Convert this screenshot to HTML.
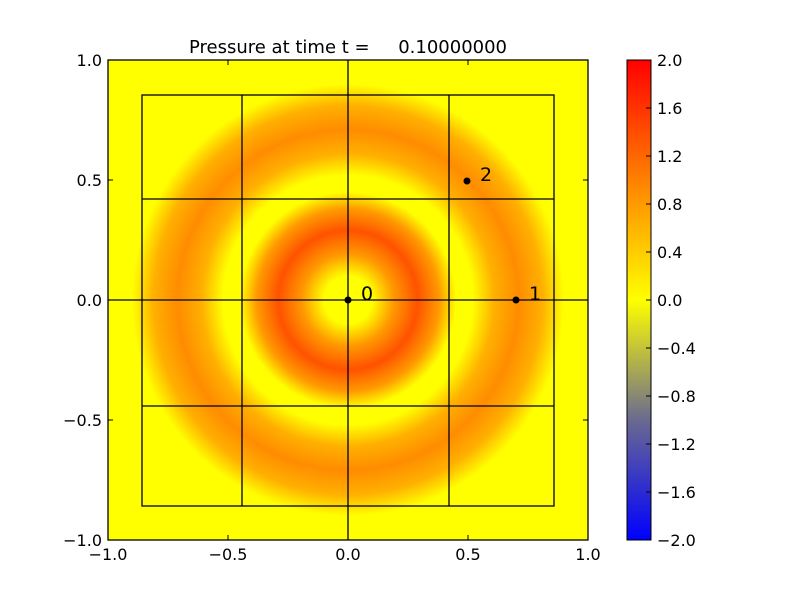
<!DOCTYPE html>
<html><head><meta charset="utf-8"><style>body{margin:0;background:#fff}svg{display:block}text{font-family:"DejaVu Sans","Liberation Sans",sans-serif;font-size:16px}</style></head><body>
<svg width="800" height="600" viewBox="0 0 800 600">
<defs>
<radialGradient id="rg" cx="348" cy="300" r="240" gradientUnits="userSpaceOnUse">
<stop offset="0" stop-color="#ffff00"/>
<stop offset="0.1" stop-color="#ffff00"/>
<stop offset="0.19" stop-color="#ff9a00"/>
<stop offset="0.29" stop-color="#ff5200"/>
<stop offset="0.38" stop-color="#ff9a00"/>
<stop offset="0.45" stop-color="#ffff00"/>
<stop offset="0.52" stop-color="#ffff00"/>
<stop offset="0.61" stop-color="#ffb000"/>
<stop offset="0.71" stop-color="#ff8c00"/>
<stop offset="0.81" stop-color="#ffb000"/>
<stop offset="0.9" stop-color="#ffff00"/>
<stop offset="1" stop-color="#ffff00"/>
</radialGradient>
<linearGradient id="cb" x1="0" y1="1" x2="0" y2="0">
<stop offset="0" stop-color="#0000ff"/>
<stop offset="0.25" stop-color="#6a6a90"/>
<stop offset="0.5" stop-color="#ffff00"/>
<stop offset="0.7" stop-color="#ff9a00"/>
<stop offset="1" stop-color="#ff0000"/>
</linearGradient>
</defs>
<rect x="108" y="60" width="480" height="480" fill="url(#rg)"/>
<g stroke="#000" stroke-width="1.3" fill="none">
<rect x="142" y="95" width="412" height="411"/>
<line x1="242" y1="95" x2="242" y2="506"/><line x1="449" y1="95" x2="449" y2="506"/>
<line x1="348" y1="60" x2="348" y2="540"/>
<line x1="142" y1="199" x2="554" y2="199"/><line x1="142" y1="406" x2="554" y2="406"/>
<line x1="108" y1="300" x2="588" y2="300"/>
<rect x="108" y="60" width="480" height="480"/>
</g>
<g stroke="#000" stroke-width="1">
<line x1="228" y1="540" x2="228" y2="535"/><line x1="468" y1="540" x2="468" y2="535"/>
<line x1="228" y1="60" x2="228" y2="65"/><line x1="468" y1="60" x2="468" y2="65"/>
<line x1="108" y1="180" x2="113" y2="180"/><line x1="108" y1="420" x2="113" y2="420"/>
<line x1="588" y1="180" x2="583" y2="180"/><line x1="588" y1="420" x2="583" y2="420"/>
</g>
<circle cx="348" cy="300" r="3.5"/><circle cx="516" cy="300" r="3.5"/><circle cx="467" cy="181" r="3.5"/>
<text x="361" y="300" style="font-size:19px">0</text>
<text x="529" y="300" style="font-size:19px">1</text>
<text x="480" y="181" style="font-size:19px">2</text>
<text x="348" y="53" text-anchor="middle" style="font-size:18px" xml:space="preserve">Pressure at time t =     0.10000000</text>
<g text-anchor="middle">
<text x="108" y="560">−1.0</text><text x="228" y="560">−0.5</text><text x="348" y="560">0.0</text><text x="468" y="560">0.5</text><text x="588" y="560">1.0</text>
</g>
<g text-anchor="end">
<text x="102" y="66">1.0</text><text x="102" y="186">0.5</text><text x="102" y="306">0.0</text><text x="102" y="426">−0.5</text><text x="102" y="546">−1.0</text>
</g>
<rect x="627" y="60" width="24" height="480" fill="url(#cb)" stroke="#000" stroke-width="1"/>
<g stroke="#000"><line x1="646" y1="108" x2="651" y2="108"/><line x1="646" y1="156" x2="651" y2="156"/><line x1="646" y1="204" x2="651" y2="204"/><line x1="646" y1="252" x2="651" y2="252"/><line x1="646" y1="300" x2="651" y2="300"/><line x1="646" y1="348" x2="651" y2="348"/><line x1="646" y1="396" x2="651" y2="396"/><line x1="646" y1="444" x2="651" y2="444"/><line x1="646" y1="492" x2="651" y2="492"/></g>
<g>
<text x="657" y="66">2.0</text><text x="657" y="114">1.6</text><text x="657" y="162">1.2</text><text x="657" y="210">0.8</text><text x="657" y="258">0.4</text><text x="657" y="306">0.0</text><text x="657" y="354">−0.4</text><text x="657" y="402">−0.8</text><text x="657" y="450">−1.2</text><text x="657" y="498">−1.6</text><text x="657" y="546">−2.0</text>
</g>
</svg>
</body></html>
